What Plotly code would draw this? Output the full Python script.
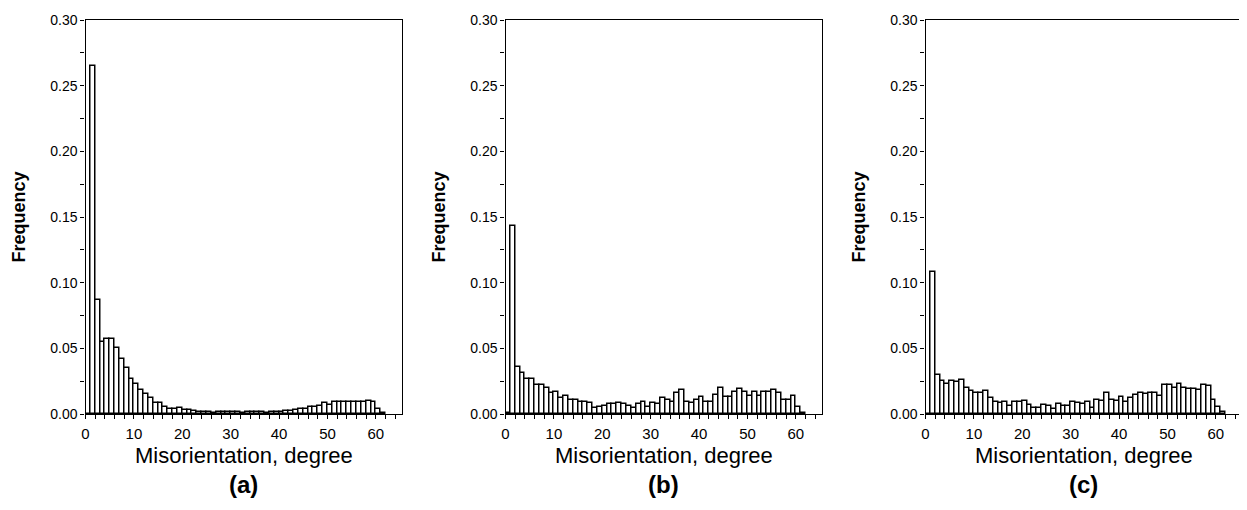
import plotly.graph_objects as go

bins = list(range(62))  # 1-degree bins, 0..61

freq_a = [0.0, 0.265, 0.087, 0.055, 0.057, 0.057, 0.050, 0.042, 0.035, 0.027,
          0.023, 0.018, 0.0155, 0.0125, 0.0082, 0.0082, 0.0053, 0.004, 0.0035, 0.0043,
          0.003, 0.003, 0.0023, 0.0015, 0.0012, 0.0013, 0.0011, 0.0013, 0.0012, 0.0013,
          0.0018, 0.0015, 0.0008, 0.0014, 0.0015, 0.0013, 0.0015, 0.0008, 0.0012, 0.0017,
          0.0018, 0.002, 0.0022, 0.003, 0.004, 0.0037, 0.005, 0.0055, 0.006, 0.008,
          0.0065, 0.009, 0.0088, 0.009, 0.009, 0.0089, 0.009, 0.009, 0.0097, 0.009,
          0.004, 0.001]

freq_b = [0.0005, 0.1435, 0.036, 0.031, 0.027, 0.027, 0.022, 0.022, 0.020, 0.016,
          0.017, 0.0125, 0.014, 0.0105, 0.011, 0.0094, 0.009, 0.0084, 0.0043, 0.0053,
          0.0063, 0.0074, 0.0074, 0.0084, 0.0074, 0.006, 0.0043, 0.0074, 0.0092, 0.0053,
          0.0082, 0.0074, 0.0122, 0.011, 0.0094, 0.016, 0.018, 0.0094, 0.0082, 0.011,
          0.0132, 0.0094, 0.0094, 0.0145, 0.020, 0.0132, 0.0132, 0.017, 0.019, 0.017,
          0.014, 0.017, 0.014, 0.017, 0.017, 0.018, 0.016, 0.011, 0.011, 0.014,
          0.0053, 0.0005]

freq_c = [0.0, 0.108, 0.0295, 0.0252, 0.0232, 0.0252, 0.0242, 0.0262, 0.020, 0.0173,
          0.0163, 0.0163, 0.0173, 0.0122, 0.0092, 0.0087, 0.0094, 0.0059, 0.0092, 0.0092,
          0.0102, 0.0071, 0.0048, 0.0043, 0.0071, 0.0061, 0.004, 0.0079, 0.0059, 0.0059,
          0.0094, 0.0082, 0.0074, 0.0094, 0.0043, 0.011, 0.010, 0.016, 0.011, 0.010,
          0.0132, 0.0094, 0.0122, 0.0143, 0.016, 0.0153, 0.016, 0.016, 0.014, 0.0219,
          0.0219, 0.020, 0.023, 0.020, 0.019, 0.019, 0.018, 0.0219, 0.021, 0.011,
          0.0053, 0.0015]

panel_labels = ["(a)", "(b)", "(c)"]
x_tick_vals = [0, 10, 20, 30, 40, 50, 60]
y_tick_vals = [0.00, 0.05, 0.10, 0.15, 0.20, 0.25, 0.30]

# the page has an 8px body margin: the figure starts at (8, 8) on screen
OFF = 8
W, H = 1247 - OFF, 510 - OFF
FONT = "Arial, Liberation Sans, sans-serif"


def px_x(x):
    return (x - OFF) / W


def px_y(y):
    return 1 - (y - OFF) / H


fig = go.Figure()

lefts = [85.5, 505.5, 925.5]   # target screen pixels
plot_w = 316.5
top_px, bottom_px = 20, 414

series = [freq_a, freq_b, freq_c]
for i, data in enumerate(series):
    xa = "x" if i == 0 else f"x{i+1}"
    ya = "y" if i == 0 else f"y{i+1}"
    fig.add_trace(go.Bar(
        x=[b + 0.5 for b in bins], y=data, width=1.0,
        marker=dict(color="white", line=dict(color="black", width=1.5)),
        xaxis=xa, yaxis=ya, showlegend=False, hoverinfo="x+y",
    ))
    axname_x = "xaxis" if i == 0 else f"xaxis{i+1}"
    axname_y = "yaxis" if i == 0 else f"yaxis{i+1}"
    fig.layout[axname_x] = dict(
        domain=[px_x(lefts[i]), px_x(lefts[i] + plot_w)], anchor=ya,
        range=[0, 65.4], automargin=False,
        tickmode="array", tickvals=x_tick_vals, ticktext=[str(v) for v in x_tick_vals],
        ticks="outside", ticklen=4, tickwidth=1.2, tickcolor="black",
        ticklabelstandoff=2,
        minor=dict(dtick=2, tick0=0, ticks="outside", ticklen=4, tickwidth=1.2,
                   tickcolor="black", showgrid=False),
        showline=True, linecolor="black", linewidth=1.4, mirror=True,
        showgrid=False, zeroline=False,
        tickfont=dict(family=FONT, size=15, color="black"),
    )
    fig.layout[axname_y] = dict(
        domain=[px_y(bottom_px), px_y(top_px)], anchor=xa,
        range=[0, 0.30], automargin=False,
        tickmode="array", tickvals=y_tick_vals, ticktext=[f"{v:.2f}" for v in y_tick_vals],
        ticks="outside", ticklen=4, tickwidth=1.2, tickcolor="black",
        minor=dict(dtick=0.025, tick0=0, ticks="outside", ticklen=4, tickwidth=1.2,
                   tickcolor="black", showgrid=False),
        showline=True, linecolor="black", linewidth=1.4, mirror=True,
        showgrid=False, zeroline=False,
        tickfont=dict(family=FONT, size=14, color="black"),
    )
    cx = lefts[i] + plot_w / 2
    fig.add_annotation(text="<b>Frequency</b>", x=px_x(lefts[i] - 67), y=px_y(217),
                       xref="paper", yref="paper", showarrow=False, textangle=-90,
                       font=dict(family=FONT, size=18, color="black"),
                       xanchor="center", yanchor="middle")
    fig.add_annotation(text="Misorientation, degree", x=px_x(cx), y=px_y(455),
                       xref="paper", yref="paper", showarrow=False,
                       font=dict(family=FONT, size=22, color="black"),
                       xanchor="center", yanchor="middle")
    fig.add_annotation(text=f"<b>{panel_labels[i]}</b>", x=px_x(cx), y=px_y(484),
                       xref="paper", yref="paper", showarrow=False,
                       font=dict(family=FONT, size=24, color="black"),
                       xanchor="center", yanchor="middle")

fig.update_layout(
    template="none",
    width=W, height=H, margin=dict(l=0, r=0, t=0, b=0, pad=0, autoexpand=False),
    paper_bgcolor="white", plot_bgcolor="white",
    bargap=0, barmode="overlay", showlegend=False,
)

fig.write_html("out.html")
